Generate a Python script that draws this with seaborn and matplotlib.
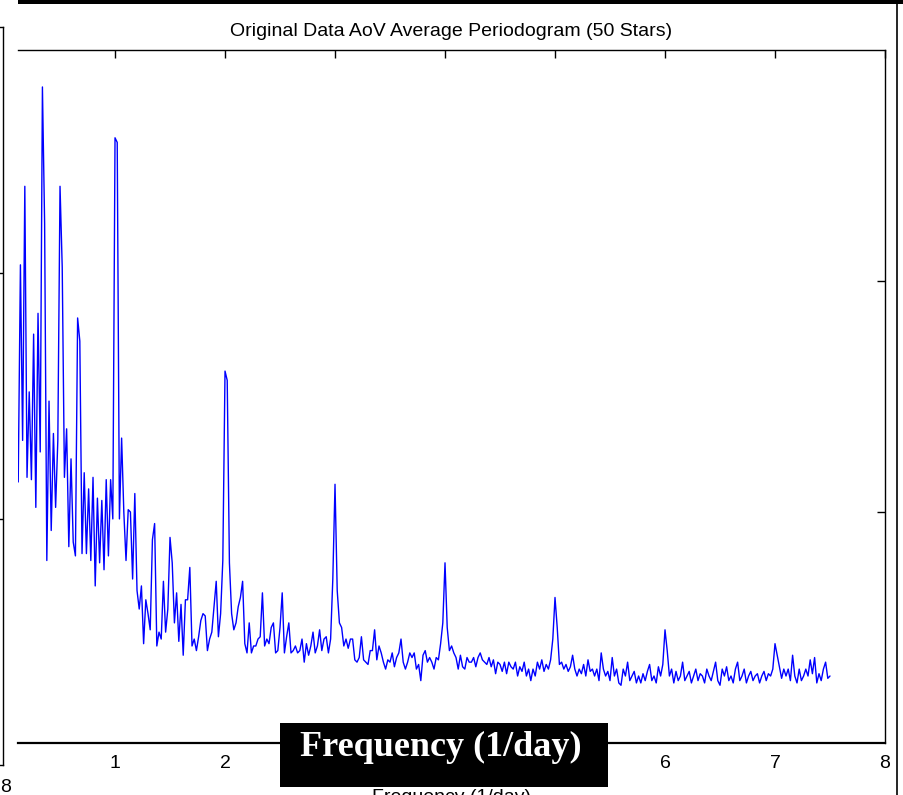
import numpy as np
import matplotlib
matplotlib.use("Agg")
import matplotlib.pyplot as plt
import matplotlib.transforms as mtransforms
from matplotlib.patches import Rectangle
from matplotlib.lines import Line2D
import seaborn as sns

# averaged AoV periodogram, evenly sampled in frequency (1/day)
F_START = 0.12
F_STOP = 7.50
power = [
    1.13, 2.07, 1.31, 2.41, 1.15, 1.52, 1.14, 1.77, 1.02, 1.86,
    1.26, 2.84, 2.25, 0.79, 1.48, 0.92, 1.34, 1.02, 1.31, 2.41,
    2.06, 1.15, 1.36, 0.85, 1.23, 0.87, 0.81, 1.84, 1.74, 0.82,
    1.17, 0.82, 1.10, 0.79, 1.15, 0.68, 1.06, 0.78, 1.05, 0.75,
    1.14, 0.81, 1.14, 0.97, 2.62, 2.60, 0.97, 1.32, 1.00, 0.79,
    1.01, 1.00, 0.71, 1.08, 0.66, 0.58, 0.68, 0.43, 0.62, 0.56,
    0.49, 0.88, 0.95, 0.42, 0.48, 0.45, 0.70, 0.48, 0.58, 0.89,
    0.78, 0.52, 0.65, 0.44, 0.60, 0.38, 0.62, 0.62, 0.76, 0.42,
    0.45, 0.40, 0.46, 0.53, 0.56, 0.55, 0.40, 0.45, 0.48, 0.59,
    0.70, 0.46, 0.56, 0.79, 1.61, 1.57, 0.78, 0.56, 0.49, 0.52,
    0.59, 0.63, 0.70, 0.43, 0.39, 0.52, 0.39, 0.42, 0.42, 0.45,
    0.46, 0.65, 0.42, 0.45, 0.43, 0.50, 0.52, 0.39, 0.40, 0.50,
    0.65, 0.39, 0.46, 0.52, 0.39, 0.40, 0.42, 0.39, 0.40, 0.45,
    0.35, 0.43, 0.38, 0.42, 0.48, 0.39, 0.42, 0.49, 0.40, 0.45,
    0.46, 0.39, 0.45, 0.71, 1.12, 0.66, 0.52, 0.50, 0.42, 0.45,
    0.41, 0.45, 0.45, 0.36, 0.35, 0.37, 0.46, 0.36, 0.35, 0.34,
    0.40, 0.40, 0.49, 0.36, 0.42, 0.39, 0.35, 0.32, 0.36, 0.35,
    0.39, 0.33, 0.37, 0.39, 0.45, 0.35, 0.32, 0.35, 0.39, 0.37,
    0.39, 0.32, 0.34, 0.27, 0.38, 0.40, 0.35, 0.37, 0.35, 0.32,
    0.37, 0.36, 0.43, 0.52, 0.78, 0.50, 0.40, 0.42, 0.39, 0.37,
    0.32, 0.38, 0.33, 0.32, 0.37, 0.35, 0.35, 0.37, 0.33, 0.37,
    0.39, 0.36, 0.35, 0.34, 0.37, 0.33, 0.36, 0.30, 0.35, 0.34,
    0.31, 0.35, 0.30, 0.35, 0.33, 0.32, 0.35, 0.29, 0.33, 0.31,
    0.35, 0.29, 0.32, 0.27, 0.32, 0.29, 0.35, 0.32, 0.36, 0.31,
    0.34, 0.32, 0.36, 0.45, 0.63, 0.50, 0.34, 0.35, 0.32, 0.34,
    0.31, 0.33, 0.38, 0.32, 0.29, 0.32, 0.30, 0.34, 0.29, 0.36,
    0.31, 0.32, 0.29, 0.32, 0.27, 0.39, 0.32, 0.29, 0.31, 0.27,
    0.37, 0.29, 0.32, 0.26, 0.25, 0.32, 0.29, 0.35, 0.27, 0.29,
    0.31, 0.26, 0.29, 0.26, 0.30, 0.27, 0.31, 0.34, 0.27, 0.29,
    0.26, 0.33, 0.29, 0.34, 0.49, 0.40, 0.29, 0.32, 0.26, 0.31,
    0.27, 0.29, 0.35, 0.27, 0.29, 0.31, 0.26, 0.29, 0.32, 0.27,
    0.30, 0.29, 0.26, 0.32, 0.29, 0.27, 0.31, 0.35, 0.27, 0.25,
    0.32, 0.29, 0.33, 0.27, 0.29, 0.26, 0.32, 0.35, 0.27, 0.29,
    0.32, 0.26, 0.29, 0.31, 0.27, 0.29, 0.30, 0.26, 0.29, 0.31,
    0.27, 0.30, 0.29, 0.32, 0.43, 0.38, 0.33, 0.28, 0.32, 0.29,
    0.32, 0.27, 0.38, 0.29, 0.26, 0.32, 0.27, 0.29, 0.32, 0.29,
    0.36, 0.30, 0.37, 0.26, 0.30, 0.27, 0.32, 0.35, 0.28, 0.29,
]
freq = np.linspace(F_START, F_STOP, len(power))

x_ticks = [1, 2, 3, 4, 5, 6, 7, 8]
# labels 3-5 sit under the black caption box in the reference
x_tick_labels = ["1", "2", "", "", "", "6", "7", "8"]
y_ticks = [1, 2]
title = "Original Data AoV Average Periodogram (50 Stars)"
xlabel = "Frequency (1/day)"

sns.set_theme(style="white")
plt.rcParams["font.family"] = ["Liberation Sans", "DejaVu Sans"]

W, H = 904, 795
fig = plt.figure(figsize=(W / 100, H / 100), dpi=100)


def box(left, top, right, bottom):
    # pixel box -> figure fraction
    return [left / W, 1 - bottom / H, (right - left) / W, (bottom - top) / H]


# neighbouring panel on the left, only its right edge is in view
nb = fig.add_axes(box(-300, 27, 3, 765))
nb.set_xlim(0, 8)
nb.set_ylim(0, 3)
nb.set_xticks([8])
nb.set_xticklabels(["8"])
nb.set_yticks(y_ticks)
nb.tick_params(axis="y", left=False, right=True, labelleft=False,
               direction="in", length=6, width=1, color="black")
nb.tick_params(axis="x", bottom=True, length=0, labelsize=14, pad=10,
               labelcolor="black")
for s in nb.spines.values():
    s.set_color("black")
    s.set_linewidth(1.0)
# nudge the lone "8" a little right so it sits inside the picture
shift = mtransforms.ScaledTranslation(2.5 / 100, 0, fig.dpi_scale_trans)
for lab in nb.get_xticklabels():
    lab.set_transform(lab.get_transform() + shift)

# main periodogram axes
ax = fig.add_axes(box(18, 50, 885, 743))
sns.lineplot(x=freq, y=power, ax=ax, color=(0, 0, 1), lw=1.0, estimator=None)
ax.set_xlim(0.118, 8)
ax.set_ylim(0, 3)
ax.set_xticks(x_ticks)
ax.set_xticklabels(x_tick_labels)
ax.set_yticks(y_ticks)
ax.tick_params(axis="both", direction="in", length=6, width=1, color="black",
               top=True, right=True, left=False, labelleft=False,
               labelsize=14, pad=9, labelcolor="black")
ax.spines["left"].set_visible(False)
for name in ["top", "right"]:
    ax.spines[name].set_color("black")
    ax.spines[name].set_linewidth(1.0)
ax.spines["bottom"].set_color("black")
ax.spines["bottom"].set_linewidth(1.6)
ax.set_xlabel("")
ax.set_ylabel("")
ax.set_title(title, fontsize=14, pad=10, color="black")

# original axis label, mostly hidden under the black caption box
fig.text(452 / W, 1 - 789 / H, xlabel, fontsize=14, ha="center", va="top",
         color="black", zorder=2)

# black caption box with the white serif label
fig.add_artist(Rectangle((280 / W, 1 - 787 / H), 328 / W, 64 / H,
                         transform=fig.transFigure, facecolor="black",
                         edgecolor="none", zorder=5))
fig.text(441 / W, 1 - 756 / H, xlabel, fontsize=26, fontweight="bold",
         family=["Liberation Serif", "DejaVu Serif"], color="white",
         ha="center", va="baseline", zorder=6)

# frame pieces along the top and right edges
fig.add_artist(Rectangle((18 / W, 1 - 4 / H), (W - 18) / W, 4 / H,
                         transform=fig.transFigure, facecolor="black",
                         edgecolor="none", zorder=5))
fig.add_artist(Line2D([897.5 / W, 897.5 / W], [0, 1], transform=fig.transFigure,
                      color="black", lw=1.2, zorder=5))

fig.savefig("out.png", dpi=100)
